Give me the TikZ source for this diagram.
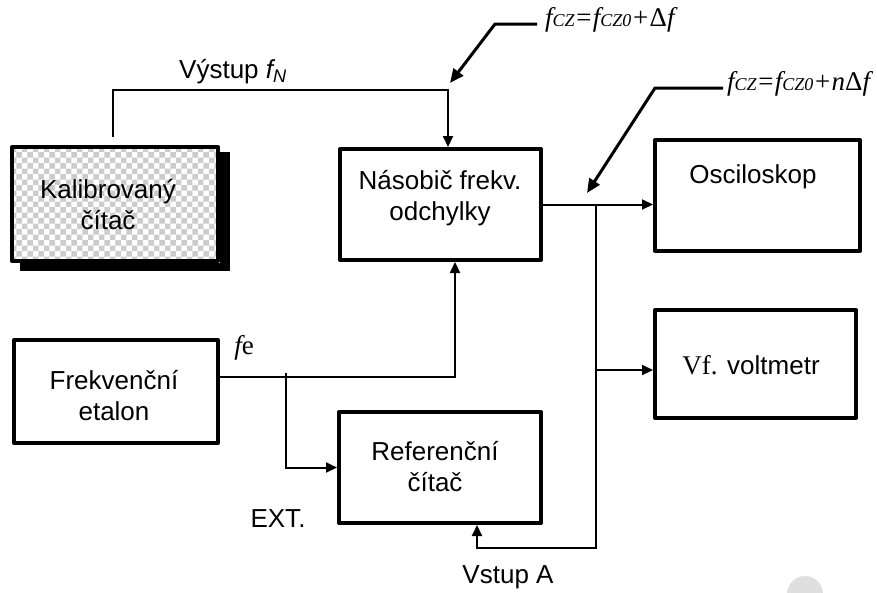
\documentclass[tikz,border=0pt]{standalone}
\usepackage{fontspec}
\setmainfont{Liberation Sans}
\newfontfamily\tms{Liberation Serif}
\usetikzlibrary{arrows.meta,patterns,calc}
\begin{document}
\begin{tikzpicture}[x=1pt,y=-1pt,
  box/.style={draw,line width=4pt,rectangle,inner sep=0pt,line join=round},
  txt/.style={font=\fontsize{26}{31}\selectfont,align=center,inner sep=0pt},
  arr/.style={line width=2pt,-{Triangle[length=11pt,width=10pt]}},
  darr/.style={line width=3pt,-{Triangle[length=14pt,width=12pt]}},
  lab/.style={font=\tms\fontsize{27}{30}\selectfont\itshape,inner sep=0pt,anchor=west}]
\useasboundingbox (0,0) rectangle (877,592);
\fill[gray!25] (805,594) circle (18);
% shadow and boxes
\fill[black] (20,152) rectangle (230,271);
\fill[white] (10,145) rectangle (220,263);
\node[box,pattern=checkerboard,pattern color=gray!40,minimum width=206pt,minimum height=114pt] (kal) at (115,204) {};
\node[box,minimum width=201pt,minimum height=111pt] (nas) at (440.5,204.5) {};
\node[box,minimum width=205pt,minimum height=111pt] (osc) at (757.5,195.5) {};
\node[box,minimum width=201pt,minimum height=108pt] (vf) at (755.5,364) {};
\node[box,minimum width=204pt,minimum height=103pt] (fre) at (116,391.5) {};
\node[box,minimum width=202pt,minimum height=111pt] (ref) at (440,467.5) {};
% texts
\node[txt] (tkal) at (108,205) {Kalibrovaný\\čítač};
\node[txt] (tnas) at (440,198) {Násobič frekv.\\odchylky};
\node[txt] (tosc) at (753,177) {Osciloskop};
\node[txt] (tvf) at (751,365) {{\tms\fontsize{27}{31}\selectfont Vf.} voltmetr};
\node[txt] (tfre) at (114,396) {Frekvenční\\etalon};
\node[txt] (tref) at (435,467) {Referenční\\čítač};
\node[txt] (tvys) at (233,72) {Výstup {\itshape f}\textsubscript{\itshape N}};
\node[txt] (text) at (278,519) {EXT.};
\node[txt] (tvst) at (508,577) {Vstup A};
\node[txt,font=\tms\fontsize{27}{30}\selectfont] (tfe) at (244,348) {{\itshape f}e};
\node[lab] (l1) at (545,20) {f{\fontsize{18}{18}\selectfont CZ}={}f{\fontsize{18}{18}\selectfont CZ0}+{\upshape Δ}f};
\node[lab] (l2) at (727,84) {f{\fontsize{18}{18}\selectfont CZ}={}f{\fontsize{18}{18}\selectfont CZ0}+n{\upshape Δ}f};
% junctions
\coordinate (j1) at (113,90);
\coordinate (j2) at (448,90);
\coordinate (j3) at (286,377);
\coordinate (j4) at (455,377);
\coordinate (j5) at (596,204.5);
\coordinate (j6) at (596,548);
\coordinate (j7) at (477,548);
\coordinate (j8) at (596,370);
\coordinate (d1a) at (537,24);
\coordinate (d1b) at (495,24);
\coordinate (d1c) at (450,83);
\coordinate (d2a) at (723,88);
\coordinate (d2b) at (655,88);
\coordinate (d2c) at (587,193);
% connectors
\draw[arr] ($(j1 |- kal.north)+(0,-8)$) -- (j1) -- (j2) -- (j2 |- nas.north);
\draw[arr] (fre.east |- j3) -- (j4) -- (j4 |- nas.south);
\draw[arr] ($(j3)+(0,-4)$) |- (ref.west);
\draw[arr] (nas.east) -- (osc.west |- nas.east);
\draw[arr] (j5) -- (j6) -- (j7) -- (j7 |- ref.south);
\draw[arr] (j8) -- (j8 -| vf.west);
\draw[darr] (d1a) -- (d1b) -- (d1c);
\draw[darr] (d2a) -- (d2b) -- (d2c);
\end{tikzpicture}
\end{document}
